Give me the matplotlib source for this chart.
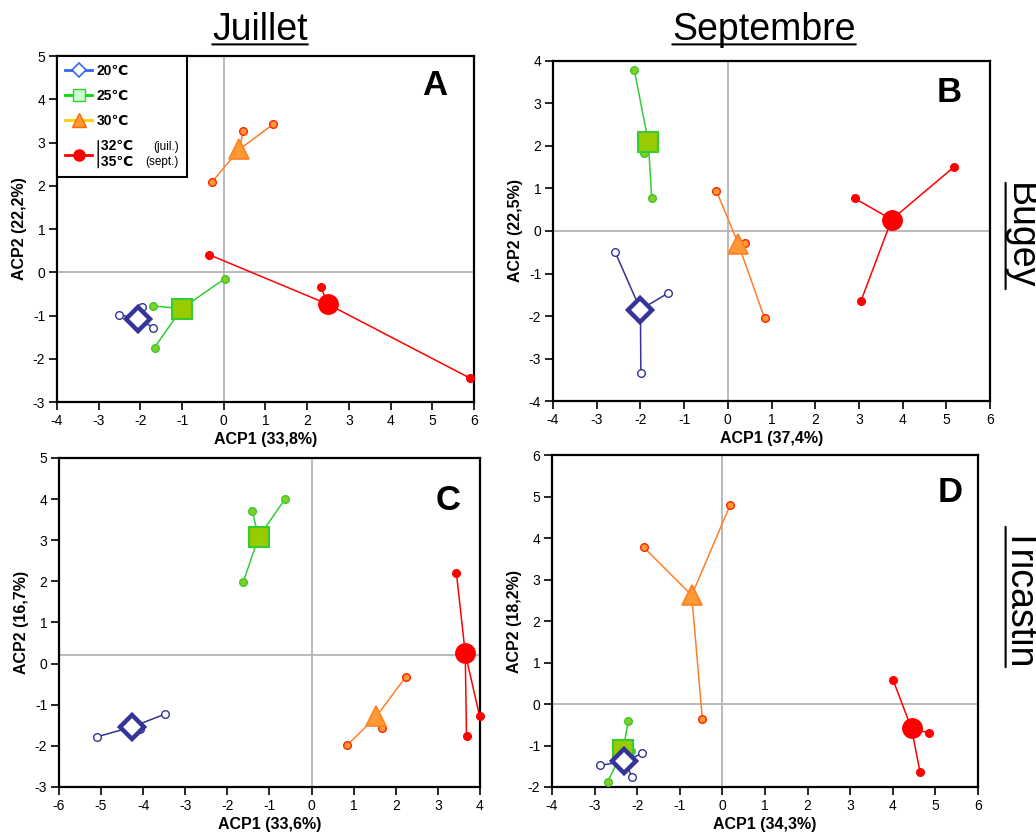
import matplotlib
matplotlib.use('Agg')
import matplotlib.pyplot as plt
from matplotlib.lines import Line2D

plt.rcParams['font.family'] = ['Liberation Sans', 'DejaVu Sans']
plt.rcParams['axes.unicode_minus'] = False

# temperature groups
groups = ['20℃', '25℃', '30℃', '32℃/35℃']

# A : Bugey, juillet  (centroid + 3 replicates per group)
a_cx = [-2.05, -1.01, 0.37, 2.50]
a_cy = [-1.07, -0.84, 2.84, -0.74]
a_rx = [[-2.52, -1.95, -1.69], [-1.69, -1.66, 0.02], [-0.28, 0.47, 1.18], [-0.36, 2.32, 5.91]]
a_ry = [[-0.98, -0.80, -1.28], [-0.78, -1.74, -0.15], [2.09, 3.27, 3.42], [0.41, -0.33, -2.45]]

# B : Bugey, septembre
b_cx = [-2.00, -1.82, 0.24, 3.75]
b_cy = [-1.85, 2.10, -0.30, 0.27]
b_rx = [[-2.58, -1.38, -1.99], [-2.14, -1.92, -1.74], [-0.26, 0.40, 0.84], [2.90, 5.18, 3.05]]
b_ry = [[-0.49, -1.47, -3.34], [3.79, 1.83, 0.77], [0.94, -0.29, -2.05], [0.77, 1.51, -1.64]]

# C : Tricastin, juillet
c_cx = [-4.26, -1.26, 1.54, 3.65]
c_cy = [-1.54, 3.07, -1.28, 0.25]
c_rx = [[-5.10, -4.08, -3.49], [-1.41, -0.63, -1.62], [0.84, 1.68, 2.24], [3.44, 3.99, 3.68]]
c_ry = [[-1.78, -1.60, -1.23], [3.72, 4.00, 1.99], [-1.99, -1.56, -0.32], [2.21, -1.27, -1.77]]

# D : Tricastin, septembre
d_cx = [-2.30, -2.33, -0.72, 4.44]
d_cy = [-1.38, -1.11, 2.62, -0.59]
d_rx = [[-2.87, -1.88, -2.11], [-2.21, -2.15, -2.69], [-1.85, 0.18, -0.47], [4.01, 4.86, 4.64]]
d_ry = [[-1.48, -1.19, -1.77], [-0.41, -1.13, -1.87], [3.78, 4.79, -0.37], [0.57, -0.70, -1.64]]

xlabels = ['ACP1 (33,8%)', 'ACP1 (37,4%)', 'ACP1 (33,6%)', 'ACP1 (34,3%)']
ylabels = ['ACP2 (22,2%)', 'ACP2 (22,5%)', 'ACP2 (16,7%)', 'ACP2 (18,2%)']
letters = ['A', 'B', 'C', 'D']

# styles
line_col = ['#333399', '#33cc33', '#ff7f27', '#ff0000']
rep_face = ['white', '#88cc22', '#ff9933', '#ff0000']
rep_edge = ['#333399', '#33cc33', '#ff2200', '#ff0000']
cen_mark = ['D', 's', '^', 'o']
cen_size = [12.5, 14, 15, 14]
cen_face = ['white', '#99cc00', '#ff9933', '#ff0000']
cen_edge = ['#333399', '#33cc33', '#ff8022', '#ff0000']
cen_mew = [3.2, 1.5, 1.2, 1]
cen_z = [6, 4, 4, 4]

fig = plt.figure(figsize=(10.36, 8.4), dpi=100)
positions = [[0.055, 0.5214, 0.4025, 0.4119],
             [0.5338, 0.5226, 0.4218, 0.4048],
             [0.0569, 0.0631, 0.4064, 0.3917],
             [0.5328, 0.0631, 0.4112, 0.3952]]
limits = [((-4, 6), (-3, 5)), ((-4, 6), (-4, 4)), ((-6, 4), (-3, 5)), ((-4, 6), (-2, 6))]
hline_y = [0, 0, 0.2, 0]
letter_pos = [(0.906, 0.916), (0.906, 0.906), (0.924, 0.872), (0.934, 0.886)]

panels = [(a_cx, a_cy, a_rx, a_ry), (b_cx, b_cy, b_rx, b_ry),
          (c_cx, c_cy, c_rx, c_ry), (d_cx, d_cy, d_rx, d_ry)]

axes = []
for k, (cx, cy, rx, ry) in enumerate(panels):
    ax = fig.add_axes(positions[k])
    axes.append(ax)
    ax.axhline(hline_y[k], color='#b4b4b4', lw=1.3, zorder=1)
    ax.axvline(0, color='#b4b4b4', lw=1.3, zorder=1)
    for g in range(4):
        for i in range(3):
            ax.plot([cx[g], rx[g][i]], [cy[g], ry[g][i]], color=line_col[g], lw=1.1, zorder=2)
        ax.plot(rx[g], ry[g], ls='none', marker='o', ms=5.5, mfc=rep_face[g],
                mec=rep_edge[g], mew=1, zorder=3, clip_on=False)
    for g in range(4):
        ax.plot(cx[g], cy[g], ls='none', marker=cen_mark[g], ms=cen_size[g],
                mfc=cen_face[g], mec=cen_edge[g], mew=cen_mew[g], zorder=cen_z[g],
                clip_on=False)
    ax.set_xlim(limits[k][0])
    ax.set_ylim(limits[k][1])
    ax.set_xticks(range(limits[k][0][0], limits[k][0][1] + 1))
    ax.set_yticks(range(limits[k][1][0], limits[k][1][1] + 1))
    ax.tick_params(direction='out', length=5.5, width=1.2, labelsize=10, pad=3)
    for s in ax.spines.values():
        s.set_linewidth(1.6)
    ax.set_xlabel(xlabels[k], fontsize=11.5, fontweight='bold', labelpad=3)
    ax.set_ylabel(ylabels[k], fontsize=11.5, fontweight='bold', labelpad=4)
    ax.text(letter_pos[k][0], letter_pos[k][1], letters[k], transform=ax.transAxes,
            fontsize=25, fontweight='bold', ha='center', va='center')

# legend in panel A
handles = [
    Line2D([], [], color='#3366ff', lw=2, marker='D', ms=7, mfc='white', mec='#3366ff', mew=1.2),
    Line2D([], [], color='#00dd00', lw=2, marker='s', ms=9, mfc='#ccffcc', mec='#33cc33', mew=1),
    Line2D([], [], color='#ffcc00', lw=2, marker='^', ms=10, mfc='#ff9933', mec='#ff6600', mew=1),
    Line2D([], [], color='#ff0000', lw=2, marker='o', ms=8, mfc='#ff0000', mec='#ff0000'),
]
labels = ['20℃', '25℃', '30℃', ' 32℃            \n 35℃']
leg = axes[0].legend(handles, labels, loc='upper left', bbox_to_anchor=(0, 1),
                     borderaxespad=0, fancybox=False, framealpha=1, edgecolor='black',
                     prop={'weight': 'bold', 'size': 10}, handlelength=2.0,
                     handletextpad=0.3, borderpad=0.55, labelspacing=0.8)
leg.get_frame().set_linewidth(1.5)
last = leg.get_texts()[3]
axes[0].annotate('(juil.)\n(sept.)', xy=(1, 0.5), xycoords=last, va='center',
                 ha='right', fontsize=8.5, linespacing=1.35, zorder=10)
axes[0].annotate('', xy=(0.02, 0.05), xycoords=last, xytext=(0.02, 0.95), textcoords=last,
                 arrowprops=dict(arrowstyle='-', lw=1, color='black', shrinkA=0, shrinkB=0),
                 zorder=10)

# column / row titles, underlined
titles = [fig.text(0.251, 1 - 30 / 840, 'Juillet', fontsize=27, ha='center', va='center'),
          fig.text(0.7375, 1 - 30 / 840, 'Septembre', fontsize=27, ha='center', va='center')]
for t in titles:
    axes[0].annotate('', xy=(0, 0.1), xycoords=t, xytext=(1, 0.1), textcoords=t,
                     arrowprops=dict(arrowstyle='-', lw=1.5, color='black', shrinkA=0, shrinkB=0))
rows = [fig.text(1020 / 1036, 1 - 236 / 840, 'Bugey', fontsize=27, rotation=-90,
                 ha='center', va='center'),
        fig.text(1020 / 1036, 1 - 597 / 840, 'Tricastin', fontsize=27, rotation=-90,
                 ha='center', va='center')]
for t in rows:
    axes[0].annotate('', xy=(0.1, 0), xycoords=t, xytext=(0.1, 1), textcoords=t,
                     arrowprops=dict(arrowstyle='-', lw=1.5, color='black', shrinkA=0, shrinkB=0))

fig.savefig('out.png', dpi=100)
